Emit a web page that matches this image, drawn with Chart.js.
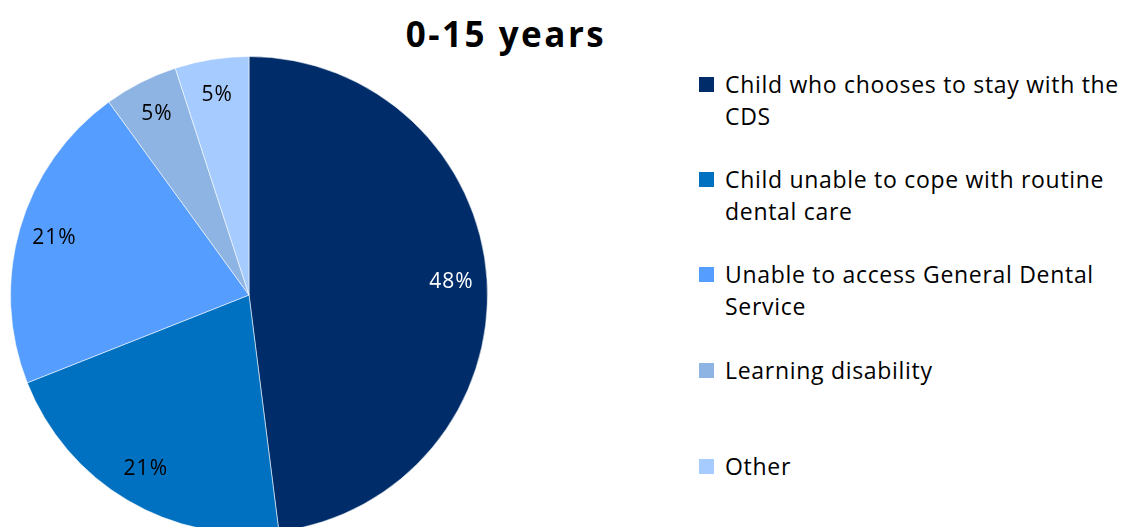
<!DOCTYPE html>
<html>
<head>
<meta charset="utf-8">
<script src="https://cdn.jsdelivr.net/npm/chart.js@4"></script>
<style>
  html, body { margin: 0; padding: 0; background: #fff; width: 1123px; height: 527px; overflow: hidden; }
  body { position: relative; font-family: "Open Sans", Lato, sans-serif; }
  #pieBox { position: absolute; left: 10px; top: 56px; width: 478px; height: 478px; }
  #title { position: absolute; left: 302px; width: 408px; top: 14px; text-align: center; font-size: 35px; line-height: 40px; letter-spacing: 2.5px; font-weight: bold; color: #000; }
  .legend-item { position: absolute; left: 699px; width: 424px; font-size: 23px; line-height: 32px; letter-spacing: 0.7px; color: #000; white-space: nowrap; }
  .legend-item .sw { position: absolute; left: 0; top: 9px; width: 15px; height: 15px; }
  .legend-item .txt { margin-left: 26px; }
</style>
</head>
<body>
<div id="title">0-15 years</div>
<div id="pieBox"><canvas id="pieChart" width="478" height="478"></canvas></div>
<div id="legend"></div>

<script>
const categories = [
    'Child who chooses to stay with the CDS',
    'Child unable to cope with routine dental care',
    'Unable to access General Dental Service',
    'Learning disability',
    'Other'
];
const percentages = [48, 21, 21, 5, 5];
const sliceColors = ['#002D6A', '#0070C0', '#559DFF', '#8DB4E2', '#A6CBFF'];
const labelColors = ['#ffffff', '#000000', '#000000', '#000000', '#000000'];

// legend rows: where each entry starts and its wrapped lines
const legendTops = [68, 163, 258, 354, 450];
const legendLines = [
    ['Child who chooses to stay with the', 'CDS'],
    ['Child unable to cope with routine', 'dental care'],
    ['Unable to access General Dental', 'Service'],
    ['Learning disability'],
    ['Other']
];

const legend = document.getElementById('legend');
categories.forEach((c, i) => {
    const item = document.createElement('div');
    item.className = 'legend-item';
    item.style.top = legendTops[i] + 'px';
    item.innerHTML = `<span class="sw" style="background:${sliceColors[i]}"></span>` +
        `<div class="txt">${legendLines[i].join('<br>')}</div>`;
    legend.appendChild(item);
});

// percentage text inside each slice
const sliceLabels = {
    id: 'sliceLabels',
    afterDatasetsDraw(chart) {
        const ctx = chart.ctx;
        const meta = chart.getDatasetMeta(0);
        ctx.save();
        ctx.font = '21px "Open Sans", Lato, sans-serif';
        ctx.letterSpacing = '1px';
        ctx.textAlign = 'center';
        ctx.textBaseline = 'middle';
        meta.data.forEach((arc, i) => {
            const p = arc.getProps(['x', 'y', 'startAngle', 'endAngle', 'outerRadius'], true);
            const mid = (p.startAngle + p.endAngle) / 2;
            const r = p.outerRadius * 0.85;
            ctx.fillStyle = labelColors[i];
            ctx.fillText(percentages[i] + '%', p.x + Math.cos(mid) * r, p.y + Math.sin(mid) * r);
        });
        ctx.restore();
    }
};

new Chart(document.getElementById('pieChart').getContext('2d'), {
    type: 'pie',
    data: {
        labels: categories,
        datasets: [{
            data: percentages,
            backgroundColor: sliceColors,
            borderColor: 'rgba(255,255,255,0.55)',
            borderWidth: 1
        }]
    },
    options: {
        responsive: false,
        animation: false,
        layout: { padding: 0 },
        plugins: {
            legend: { display: false },
            tooltip: { enabled: false },
            title: { display: false }
        }
    },
    plugins: [sliceLabels]
});
</script>
</body>
</html>
